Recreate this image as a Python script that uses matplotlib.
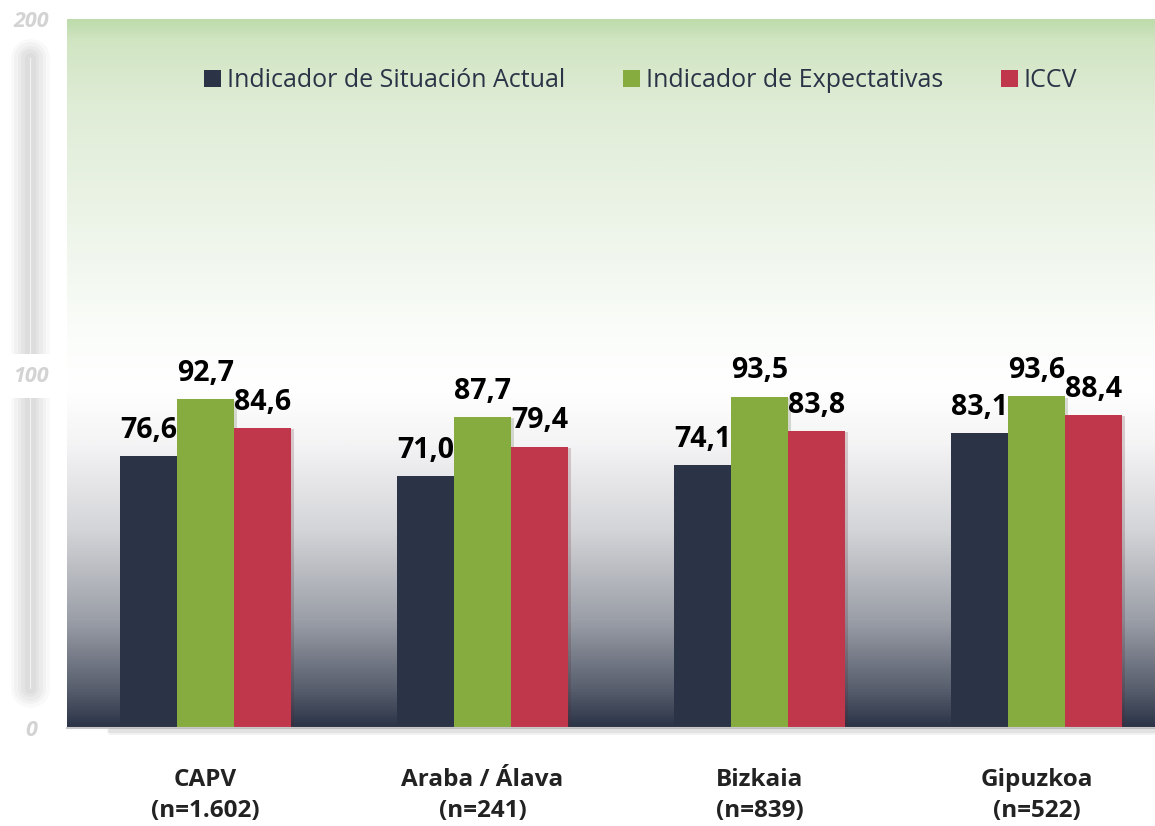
import matplotlib.pyplot as plt
import numpy as np
from matplotlib.colors import LinearSegmentedColormap
from matplotlib.lines import Line2D
from matplotlib.patches import Patch
import matplotlib.patheffects as pe

plt.rcParams['font.family'] = ['Open Sans', 'DejaVu Sans']

categories = ['CAPV\n(n=1.602)', 'Araba / Álava\n(n=241)', 'Bizkaia\n(n=839)', 'Gipuzkoa\n(n=522)']
series_names = ['Indicador de Situación Actual', 'Indicador de Expectativas', 'ICCV']
situacion = [76.6, 71.0, 74.1, 83.1]
expectativas = [92.7, 87.7, 93.5, 93.6]
iccv = [84.6, 79.4, 83.8, 88.4]
colors = ['#2b3346', '#86ac3f', '#c0364a']
y_ticks = [0, 100, 200]

fig = plt.figure(figsize=(11.55, 8.26), dpi=100)
ax = fig.add_axes([67 / 1155, 1 - 728 / 826, 1088 / 1155, 709 / 826])

# background gradient (green on top, white in the middle, dark at the bottom)
stops = [(0.0, '#2b3447'), (0.05, '#555c6b'), (0.15, '#9a9ea7'),
         (0.28, '#d4d5d8'), (0.40, '#f4f4f5'), (0.48, '#ffffff'),
         (0.55, '#fbfdfa'), (0.70, '#eef5ea'), (0.88, '#dfecd6'),
         (0.97, '#d1e5c3'), (1.0, '#bedcab')]
cmap = LinearSegmentedColormap.from_list('bg', stops)
grad = np.linspace(0, 1, 512).reshape(-1, 1)
ax.imshow(grad, aspect='auto', cmap=cmap, origin='lower',
          extent=[-0.5, 3.428, 0, 200], zorder=0)

x = np.arange(len(categories))
w = 0.206
shadow = [pe.SimplePatchShadow(offset=(2, -1), alpha=0.2, rho=0.5), pe.Normal()]
for i, vals in enumerate([situacion, expectativas, iccv]):
    bars = ax.bar(x + (i - 1) * w, vals, w, color=colors[i], zorder=2, label=series_names[i])
    for b in bars:
        b.set_path_effects(shadow)
    for xi, v in zip(x + (i - 1) * w, vals):
        ax.annotate(f'{v:.1f}'.replace('.', ','), (xi, v), xytext=(0, 8),
                    textcoords='offset points', ha='center', va='bottom',
                    fontsize=20.5, fontweight='bold', color='#000000', zorder=3)

ax.set_xlim(-0.5, 3.428)
ax.set_ylim(0, 200)
ax.set_xticks(x)
ax.set_xticklabels(categories, fontsize=17.5, fontweight='bold', color='#222222',
                   linespacing=1.4)
ax.tick_params(axis='x', length=0, pad=29)
ax.set_yticks(y_ticks)
ax.set_yticklabels([str(t) for t in y_ticks], fontsize=15.5, fontweight='bold',
                   style='italic', color='#d3d3d3', ha='center')
ax.tick_params(axis='y', length=0, pad=26)
for lab in ax.get_yticklabels():
    if lab.get_text() == '100':
        lab.set_bbox(dict(facecolor='white', edgecolor='none', pad=8))
        lab.set_zorder(5)

for s in ['top', 'right', 'left']:
    ax.spines[s].set_visible(False)
ax.spines['bottom'].set_color('#c8c8c8')
ax.spines['bottom'].set_linewidth(1.5)

# soft vertical bar on the left, behind the tick labels
xa = 30 / 1155
for lw, a in [(28, 0.04), (23, 0.05), (18, 0.05), (13, 0.06), (8, 0.06)]:
    fig.add_artist(Line2D([xa, xa], [1 - 688 / 826, 1 - 58 / 826], lw=lw,
                          color='#777777', alpha=a, solid_capstyle='round', zorder=-1))
fig.add_artist(Line2D([xa, xa], [1 - 688 / 826, 1 - 58 / 826], lw=0.8,
                      color='#f2f2f2', zorder=-1))
# soft shadow under the baseline
for lw, a in [(5, 0.07), (3, 0.1)]:
    fig.add_artist(Line2D([110 / 1155, 1], [1 - 731 / 826] * 2, lw=lw,
                          color='#555555', alpha=a, solid_capstyle='round'))

handles = [Patch(facecolor=c, edgecolor='none') for c in colors]
ax.legend(handles, series_names, loc='center', bbox_to_anchor=(0.527, 0.913),
          ncol=3, frameon=False, fontsize=18, handlelength=0.68, handleheight=0.68,
          handletextpad=0.25, columnspacing=2.3, labelcolor='#2b3447')

fig.savefig('out.png', dpi=100)
